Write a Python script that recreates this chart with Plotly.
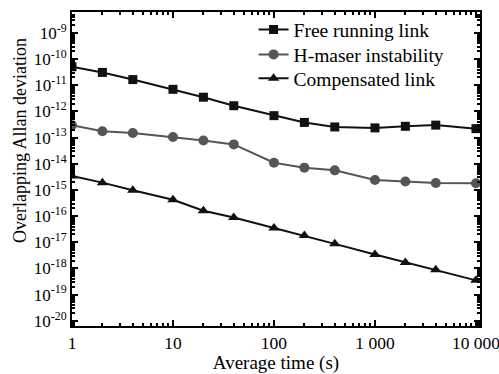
import plotly.graph_objects as go

tau = [1, 2, 4, 10, 20, 40, 100, 200, 400, 1000, 2000, 4000, 10000]
free_running = [5.1e-11, 3.1e-11, 1.65e-11, 7.0e-12, 3.5e-12, 1.65e-12, 6.9e-13,
                3.8e-13, 2.55e-13, 2.35e-13, 2.7e-13, 3.0e-13, 2.2e-13]
h_maser = [2.95e-13, 1.75e-13, 1.5e-13, 1.06e-13, 7.8e-14, 5.5e-14, 1.1e-14,
           7.1e-15, 5.6e-15, 2.4e-15, 2.1e-15, 1.85e-15, 1.8e-15]
compensated = [3.4e-15, 1.9e-15, 9.8e-16, 4.2e-16, 1.6e-16, 8.9e-17, 3.5e-17,
               1.8e-17, 8.7e-18, 3.4e-18, 1.7e-18, 9.0e-19, 3.5e-19]

x_tickvals = [1, 10, 100, 1000, 10000]
x_ticktext = ["1", "10", "100", "1 000", "10 000"]
y_exponents = list(range(-20, -8))
y_tickvals = [10.0 ** e for e in y_exponents]
y_ticktext = ["10<sup>%d</sup>" % e for e in y_exponents]

FONT = "Liberation Serif"

fig = go.Figure()
fig.add_trace(go.Scatter(x=tau, y=free_running, name="Free running link",
                         mode="lines+markers", legend="legend", showlegend=True,
                         line=dict(color="#111111", width=2),
                         marker=dict(symbol="square", size=9, color="#111111")))
fig.add_trace(go.Scatter(x=tau, y=h_maser, name="H-maser instability",
                         mode="lines+markers", legend="legend2", showlegend=True,
                         line=dict(color="#555555", width=2),
                         marker=dict(symbol="circle", size=10, color="#555555")))
fig.add_trace(go.Scatter(x=tau, y=compensated, name="Compensated link",
                         mode="lines+markers", legend="legend3", showlegend=True,
                         line=dict(color="#111111", width=2),
                         marker=dict(symbol="triangle-up", size=10, color="#111111")))

axis_common = dict(showline=True, linecolor="black", linewidth=2, mirror="ticks",
                   ticks="inside", ticklen=6, tickwidth=1.5, tickcolor="black",
                   showgrid=False, zeroline=False, automargin=False,
                   minor=dict(ticks="inside", ticklen=3, tickcolor="black",
                              dtick="D1", showgrid=False))

fig.update_xaxes(type="log", range=[0, 4.04], tickvals=x_tickvals, ticktext=x_ticktext,
                 tickfont=dict(family=FONT, size=17.5, color="black"),
                 ticklabeloverflow="allow",
                 title=dict(text="Average time (s)", standoff=0,
                            font=dict(family=FONT, size=19, color="black")),
                 **axis_common)
fig.update_yaxes(type="log", range=[-20.2, -8.2], tickvals=y_tickvals, ticktext=y_ticktext,
                 tickfont=dict(family=FONT, size=17, color="black"),
                 **axis_common)

fig.add_annotation(text="Overlapping Allan deviation", textangle=-90,
                   xref="paper", yref="paper", x=-0.127, y=0.59,
                   xanchor="center", yanchor="middle", showarrow=False,
                   font=dict(family=FONT, size=18, color="black"))

legend_style = dict(xanchor="left", yanchor="middle", bgcolor="rgba(0,0,0,0)",
                    font=dict(family=FONT, size=19.5, color="black"), itemwidth=30)

fig.update_layout(width=499, height=374, showlegend=True,
                  margin=dict(l=72, r=19, t=10, b=48),
                  paper_bgcolor="white", plot_bgcolor="white",
                  legend=dict(x=0.445, y=0.943, **legend_style),
                  legend2=dict(x=0.445, y=0.864, **legend_style),
                  legend3=dict(x=0.445, y=0.788, **legend_style))

fig.write_html("out.html", config={"displayModeBar": False},
               post_script="document.body.style.margin='0px';")
